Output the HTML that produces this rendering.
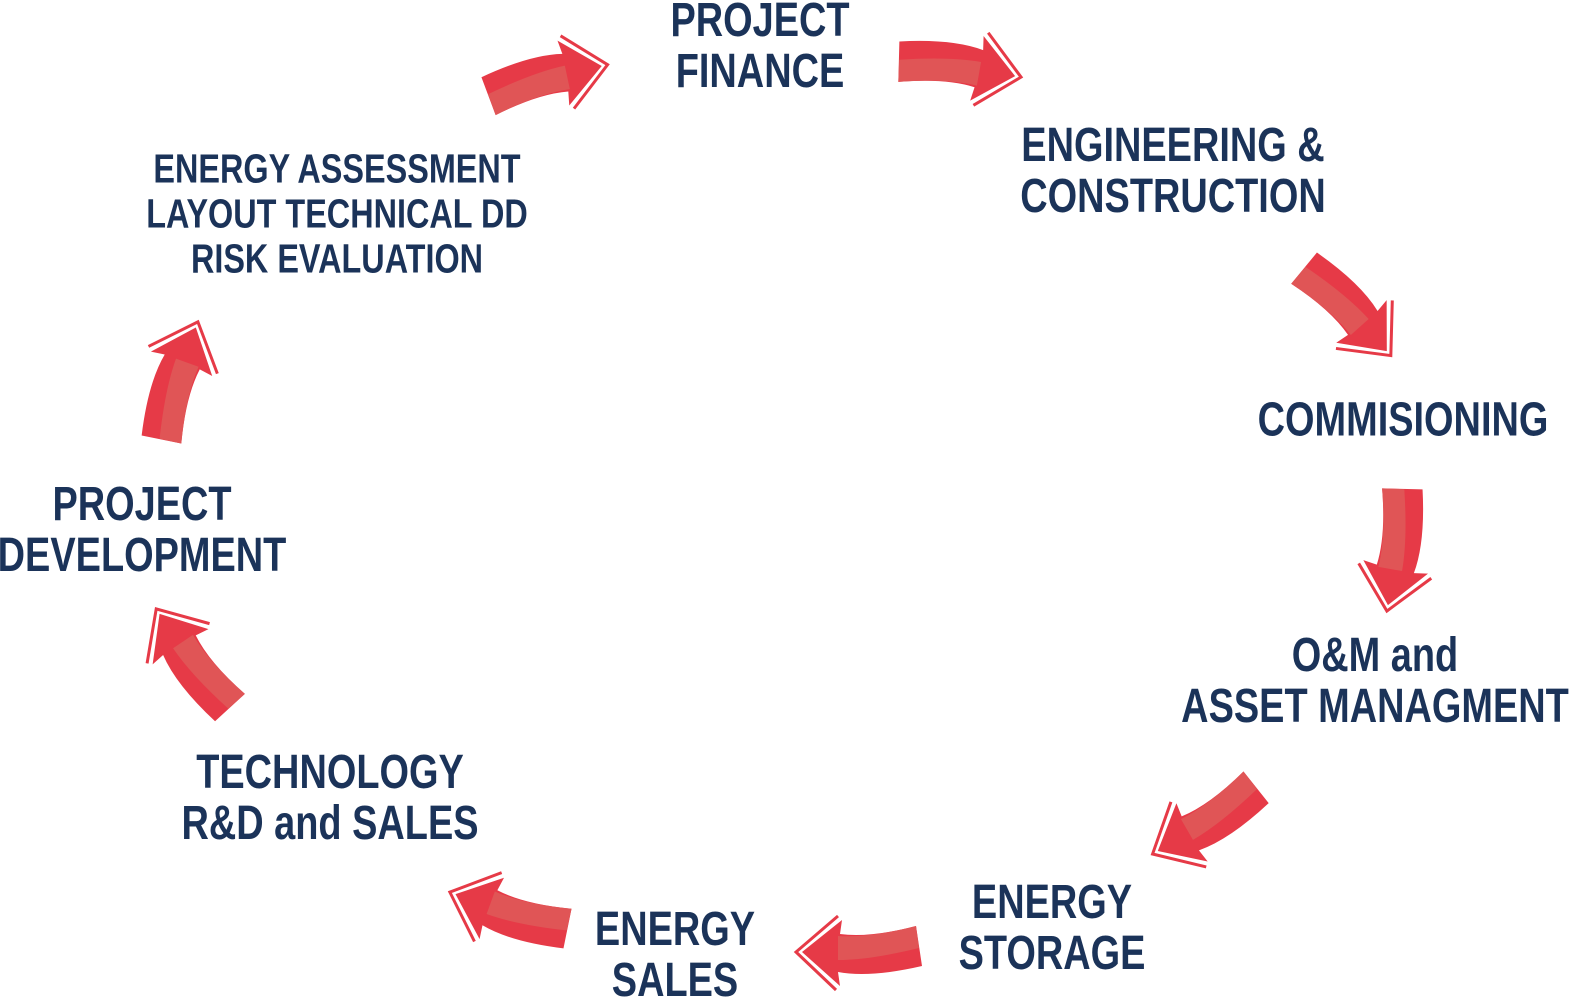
<!DOCTYPE html>
<html><head><style>
body{margin:0;width:1572px;height:1006px;background:#fff;position:relative;overflow:hidden}
.t{position:absolute;transform:translate(-50%,-50%) scaleX(0.79);white-space:nowrap;text-align:center;font-family:"Liberation Sans",sans-serif;font-weight:bold;color:#1b3359;font-size:48px;line-height:51px}
.s{font-size:41px;line-height:45px}
svg{position:absolute;left:0;top:0}
</style></head><body>
<svg width="1572" height="1006">
<defs>
<g id="a">
<path d="M-62,-14 Q-10,-26 22,-20 L20,-34 L58,0 L18,32 L20,18 Q-10,14 -56,26 Z" fill="#e63a47"/>
<path d="M-59,4 Q-10,-8 22,-8 L22,16 Q-10,14 -56,26 Z" fill="#e05556"/>
<path d="M24,-38 L64,0 L22,36" fill="none" stroke="#e63a47" stroke-width="3"/>
</g>
</defs>
<use href="#a" transform="translate(545,78) rotate(-12)"/>
<use href="#a" transform="translate(958,66) rotate(10)"/>
<use href="#a" transform="translate(1348,308) rotate(48)"/>
<use href="#a" transform="translate(1398,548) rotate(100)"/>
<use href="#a" transform="translate(1208,822) rotate(150)"/>
<use href="#a" transform="translate(860,952) rotate(180)"/>
<use href="#a" transform="translate(510,914) rotate(200)"/>
<use href="#a" transform="translate(192,662) rotate(236)"/>
<use href="#a" transform="translate(176,382) rotate(290)"/>
</svg>
<div class="t" style="left:760px;top:46px">PROJECT<br>FINANCE</div>
<div class="t" style="left:1173px;top:171px">ENGINEERING &amp;<br>CONSTRUCTION</div>
<div class="t" style="left:1403px;top:420px">COMMISIONING</div>
<div class="t" style="left:1375px;top:681px">O&amp;M and<br>ASSET MANAGMENT</div>
<div class="t" style="left:1052px;top:928px">ENERGY<br>STORAGE</div>
<div class="t" style="left:675px;top:955px">ENERGY<br>SALES</div>
<div class="t" style="left:330px;top:798px">TECHNOLOGY<br>R&amp;D and SALES</div>
<div class="t" style="left:142px;top:530px">PROJECT<br>DEVELOPMENT</div>
<div class="t s" style="left:337px;top:214px">ENERGY ASSESSMENT<br>LAYOUT TECHNICAL DD<br>RISK EVALUATION</div>
</body></html>
